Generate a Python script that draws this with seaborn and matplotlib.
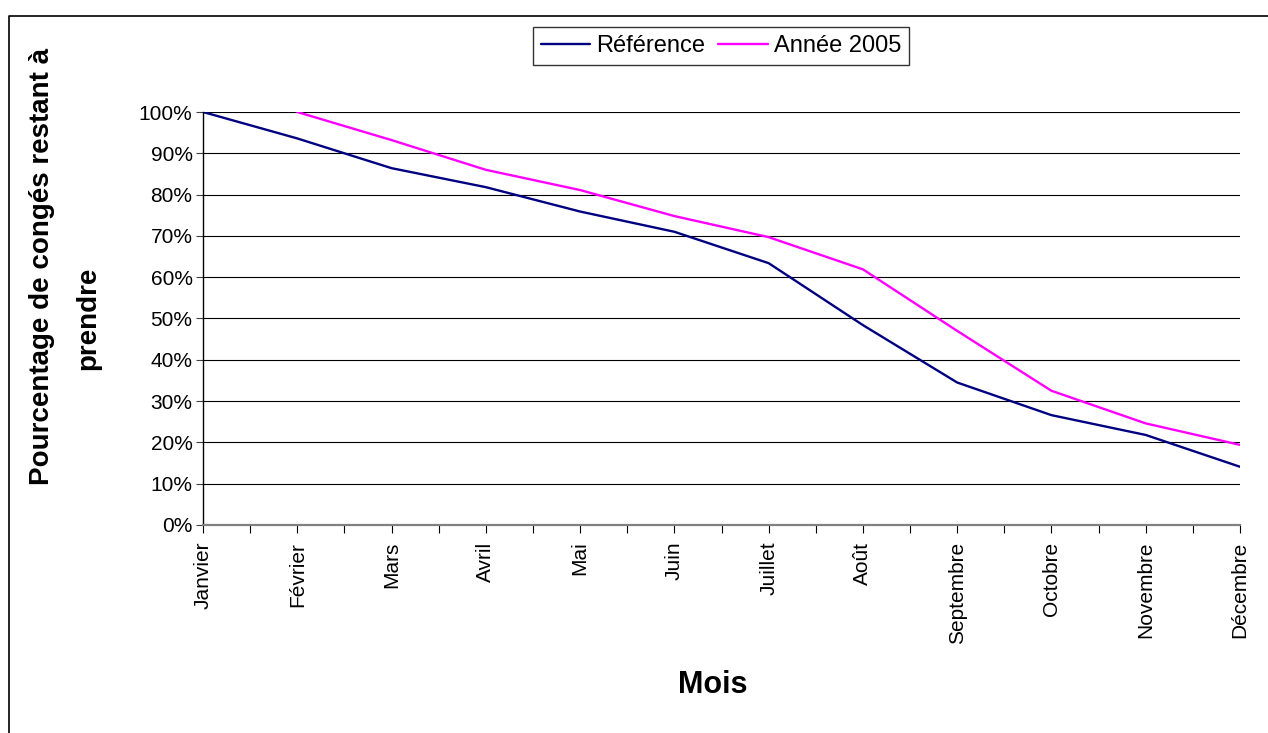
import numpy as np
import pandas as pd
import seaborn as sns
import matplotlib.pyplot as plt
from matplotlib.lines import Line2D
from matplotlib.ticker import PercentFormatter, MultipleLocator

# Données
mois = ['Janvier', 'Février', 'Mars', 'Avril', 'Mai', 'Juin', 'Juillet',
        'Août', 'Septembre', 'Octobre', 'Novembre', 'Décembre']
reference = [100, 93.6, 86.4, 81.8, 75.9, 71.0, 63.4, 48.4, 34.5, 26.6, 21.8, 14.1]
annee_2005 = [np.nan, 100, 93.2, 86.0, 81.1, 74.8, 69.7, 61.9, 47.0, 32.5, 24.6, 19.4]
series = ['Référence', 'Année 2005']
couleurs = ['#000080', '#FF00FF']

df = pd.DataFrame({
    'pos': list(range(len(mois))) * 2,
    'valeur': [v / 100 for v in reference + annee_2005],
    'serie': [series[0]] * len(mois) + [series[1]] * len(mois),
})

sns.set_theme(style="white")
plt.rcParams['font.family'] = ['Liberation Sans', 'DejaVu Sans']
plt.rcParams['text.color'] = 'black'
plt.rcParams['xtick.color'] = 'black'
plt.rcParams['ytick.color'] = 'black'

fig = plt.figure(figsize=(12.68, 7.33), dpi=100)
ax = fig.add_axes([203 / 1268, 1 - 525 / 733, (1240 - 203) / 1268, (525 - 112) / 733])

sns.lineplot(data=df, x='pos', y='valeur', hue='serie', palette=couleurs,
             linewidth=1.7, ax=ax, legend=False)

# Axes
ax.set_xlim(0, len(mois) - 1)
ax.set_ylim(0, 1)
ax.yaxis.set_major_locator(MultipleLocator(0.1))
ax.yaxis.set_major_formatter(PercentFormatter(1.0, decimals=0))
ax.set_xticks(range(len(mois)))
ax.set_xticklabels(mois, rotation=90, fontsize=15)
ax.set_xticks(np.arange(0.5, len(mois) - 1, 1.0), minor=True)
ax.tick_params(axis='x', which='both', direction='out', length=6, width=0.8,
               color='black', pad=6, bottom=True)
ax.tick_params(axis='y', direction='out', length=5, width=0.8, color='#404040',
               labelsize=15, pad=2.5, left=True)
ax.set_xlabel('')
ax.set_ylabel('')

ax.grid(axis='y', color='black', linewidth=0.8)
ax.grid(axis='x', visible=False)
ax.set_axisbelow(True)
for s in ['top', 'right']:
    ax.spines[s].set_visible(False)
ax.spines['left'].set_color('black')
ax.spines['left'].set_linewidth(1.0)
ax.spines['bottom'].set_color('#808080')
ax.spines['bottom'].set_linewidth(1.6)

# Titres des axes
fig.text(42 / 1268, 1 - 266 / 733, 'Pourcentage de congés restant à',
         rotation=90, ha='center', va='center', fontsize=20, fontweight='bold')
fig.text(88 / 1268, 1 - 318 / 733, 'prendre',
         rotation=90, ha='center', va='center', fontsize=20, fontweight='bold')
fig.text(713 / 1268, 1 - 685 / 733, 'Mois', ha='center', va='center',
         fontsize=22, fontweight='bold')

# Légende
handles = [Line2D([0], [0], color=c, linewidth=1.7) for c in couleurs]
leg = fig.legend(handles, series, loc='center', bbox_to_anchor=(721 / 1268, 1 - 46 / 733),
                 ncol=2, fontsize=17, frameon=True, fancybox=False, handlelength=2.1,
                 handletextpad=0.25, columnspacing=0.55, borderpad=0.35)
leg.get_frame().set_edgecolor('black')
leg.get_frame().set_linewidth(1.0)

# Cadre extérieur
fig.add_artist(Line2D([9 / 1268, 9 / 1268, 1.0], [0.0, 1 - 16 / 733, 1 - 16 / 733],
                      transform=fig.transFigure, color='black', linewidth=1.2))

fig.savefig('out.png', dpi=100)
